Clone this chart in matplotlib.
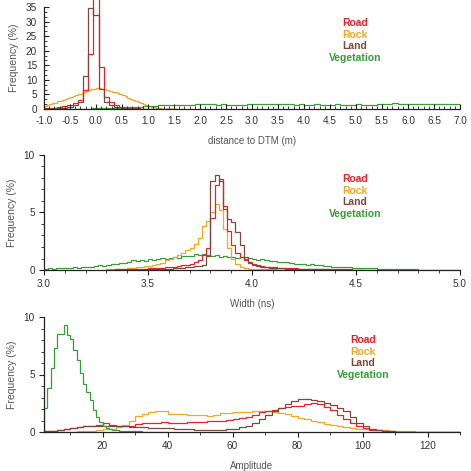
import numpy as np
import matplotlib
matplotlib.use("Agg")
import matplotlib.pyplot as plt
from matplotlib.ticker import MultipleLocator, FormatStrFormatter
from matplotlib.patches import Rectangle

plt.rcParams["font.family"] = ["Liberation Sans", "DejaVu Sans"]

# =========================
# COLOURS / CLASSES
# =========================
CLASSES = ["Road", "Rock", "Land", "Vegetation"]
COLORS = {"Road": "#e8212b", "Rock": "#f5a623", "Land": "#7b4a3c", "Vegetation": "#3a9b3a"}

# =========================
# PANEL 1: distance to DTM (m)
# =========================
# road / land: bins 0.1 wide, centred at -1.0, -0.9, ...
dist_road_start = -1.05
dist_road = [0.2, 0.35, 0.5, 0.7, 1.0, 1.4, 2.0, 3.2, 6.5, 19.0, 45.0, 14.5, 4.2, 2.4,
             1.4, 0.8, 0.5, 0.3, 0.2, 0.15, 0.1, 0.08, 0.06, 0.05, 0.04, 0.03]
dist_land_start = -1.05
dist_land = [0.1, 0.15, 0.25, 0.35, 0.5, 0.8, 1.3, 2.5, 11.3, 34.8, 32.2, 7.0, 2.5, 1.5,
             0.8, 0.45, 0.3, 0.2, 0.12, 0.08, 0.06, 0.05, 0.04, 0.03, 0.03, 0.02]
# rock: bins 0.05 wide from -1.0
dist_rock_start = -1.0
dist_rock = [1.0, 1.3, 1.6, 1.9, 2.2, 2.6, 2.9, 3.2, 3.5, 3.8,
             4.1, 4.4, 4.7, 5.0, 5.3, 5.8, 6.2, 6.5, 6.8, 7.0,
             7.1, 7.1, 7.0, 6.9, 6.6, 6.3, 6.0, 5.7, 5.4, 5.1,
             4.7, 4.3, 3.9, 3.5, 3.1, 2.7, 2.4, 2.0, 1.7, 1.4,
             1.1, 0.8, 0.6, 0.4, 0.25, 0.15, 0.1, 0.07, 0.05, 0.03]
# vegetation: bins 0.1 wide from -1.0 to 7.0
dist_veg_start = -1.0
dist_veg = [0.0, 0.0, 0.02, 0.03, 0.05, 0.07, 0.1, 0.12, 0.15, 0.18,
            0.22, 0.27, 0.32, 0.38, 0.45, 0.55, 0.65, 0.75, 0.85, 1.0,
            1.1, 1.2, 1.25, 1.3, 1.35, 1.4, 1.45, 1.5, 1.5, 1.55,
            1.7, 1.6, 1.55, 1.5, 1.55, 1.5, 1.45, 1.4, 1.5, 1.55,
            1.55, 1.6, 1.55, 1.6, 1.55, 1.6, 1.55, 1.6, 1.5, 1.55,
            1.5, 1.45, 1.55, 1.5, 1.45, 1.5, 1.55, 1.5, 1.45, 1.5,
            1.55, 1.5, 1.45, 1.5, 1.55, 1.6, 1.65, 1.9, 1.7, 1.6,
            1.6, 1.65, 1.6, 1.55, 1.6, 1.55, 1.6, 1.6, 1.55, 1.6]

# =========================
# PANEL 2: Width (ns), bins 0.02 wide
# =========================
width_road_start = 3.30
width_road = [0.03, 0.04, 0.05, 0.06, 0.07, 0.08, 0.09, 0.1, 0.12, 0.13,
              0.15, 0.17, 0.19, 0.21, 0.24, 0.27, 0.3, 0.34, 0.4, 0.45,
              0.55, 0.7, 0.9, 1.3, 1.9, 4.5, 7.4, 7.9, 5.6, 3.4,
              2.2, 1.5, 1.1, 0.85, 0.7, 0.55, 0.45, 0.35, 0.3, 0.26,
              0.22, 0.2, 0.18, 0.16, 0.15, 0.14, 0.13, 0.12, 0.11, 0.1,
              0.1, 0.09, 0.08, 0.08, 0.07, 0.06, 0.06, 0.05, 0.05, 0.04,
              0.04, 0.03, 0.03, 0.02, 0.02, 0.02, 0.01]
width_rock_start = 3.30
width_rock = [0.05, 0.06, 0.08, 0.1, 0.12, 0.15, 0.18, 0.22, 0.27, 0.32,
              0.38, 0.45, 0.55, 0.65, 0.85, 1.0, 1.1, 1.3, 1.5, 1.7,
              1.95, 2.3, 2.8, 3.8, 4.3, 5.0, 5.7, 5.2, 3.6, 1.9,
              1.0, 0.5, 0.28, 0.18, 0.13, 0.1, 0.08, 0.07, 0.06, 0.05,
              0.05, 0.04, 0.04, 0.03, 0.03, 0.02, 0.02, 0.02, 0.01]
width_land_start = 3.30
width_land = [0.01, 0.01, 0.02, 0.02, 0.02, 0.03, 0.03, 0.04, 0.04, 0.05,
              0.05, 0.06, 0.07, 0.08, 0.1, 0.12, 0.14, 0.16, 0.19, 0.23,
              0.27, 0.32, 0.38, 0.45, 1.2, 7.7, 8.3, 7.7, 5.3, 4.4,
              4.2, 3.3, 2.2, 1.1, 0.6, 0.45, 0.35, 0.3, 0.25, 0.2,
              0.18, 0.16, 0.14, 0.12, 0.11, 0.1, 0.09, 0.08, 0.08, 0.07,
              0.06, 0.06, 0.05, 0.05, 0.04, 0.04, 0.03, 0.03, 0.02, 0.02,
              0.02, 0.01]
width_veg_start = 3.0
width_veg = [0.12, 0.15, 0.13, 0.16, 0.18, 0.17, 0.2, 0.22, 0.2, 0.26,
             0.3, 0.28, 0.35, 0.4, 0.38, 0.45, 0.5, 0.48, 0.58, 0.62,
             0.7, 0.85, 0.75, 0.88, 0.82, 0.95, 0.9, 1.0, 1.05, 0.98,
             1.08, 1.15, 1.05, 1.2, 1.25, 1.22, 1.35, 1.3, 1.4, 1.32,
             1.2, 1.28, 1.15, 1.22, 1.12, 1.15, 1.05, 1.1, 1.0, 1.02,
             0.95, 0.9, 0.92, 0.85, 0.8, 0.78, 0.72, 0.68, 0.7, 0.6,
             0.55, 0.52, 0.48, 0.45, 0.5, 0.42, 0.4, 0.35, 0.32, 0.3,
             0.28, 0.25, 0.22, 0.24, 0.2, 0.18, 0.2, 0.15, 0.14, 0.16,
             0.12, 0.1, 0.11, 0.08, 0.08, 0.07, 0.06, 0.06, 0.05, 0.05,
             0.04, 0.04, 0.03, 0.03, 0.03, 0.02, 0.02, 0.02, 0.02, 0.02]

# =========================
# PANEL 3: Amplitude
# =========================
# road / rock / land: bins 2 wide from 2
amp_road_start = 2
amp_road = [0.05, 0.1, 0.18, 0.25, 0.32, 0.4, 0.48, 0.55, 0.62, 0.78,
            0.6, 0.5, 0.5, 0.55, 0.7, 0.78, 0.8, 0.82, 0.87, 0.82,
            0.8, 0.8, 0.85, 0.87, 0.88, 0.92, 0.96, 1.0, 1.05, 1.1,
            1.2, 1.3, 1.5, 1.7, 1.85, 1.95, 2.1, 2.2, 2.25, 2.3,
            2.4, 2.5, 2.45, 2.2, 1.9, 1.5, 1.1, 0.75, 0.5, 0.32,
            0.2, 0.14, 0.09, 0.06, 0.04, 0.03, 0.02, 0.02, 0.01, 0.01,
            0.01, 0.01, 0.01, 0.01]
amp_rock_start = 2
amp_rock = [0.0, 0.0, 0.01, 0.02, 0.03, 0.05, 0.07, 0.1, 0.15, 0.22,
            0.3, 0.42, 0.6, 0.95, 1.35, 1.6, 1.78, 1.82, 1.8, 1.6,
            1.55, 1.58, 1.5, 1.48, 1.45, 1.4, 1.5, 1.62, 1.65, 1.7,
            1.72, 1.75, 1.82, 1.85, 1.8, 1.75, 1.68, 1.55, 1.35, 1.2,
            1.1, 0.95, 0.85, 0.72, 0.62, 0.52, 0.42, 0.35, 0.3, 0.26,
            0.22, 0.2, 0.16, 0.12, 0.1, 0.07, 0.05, 0.04, 0.03, 0.02,
            0.02, 0.01, 0.01, 0.01]
amp_land_start = 2
amp_land = [0.05, 0.12, 0.2, 0.3, 0.38, 0.45, 0.5, 0.55, 0.55, 0.55,
            0.52, 0.5, 0.48, 0.45, 0.42, 0.4, 0.38, 0.36, 0.35, 0.33,
            0.3, 0.27, 0.24, 0.2, 0.18, 0.16, 0.15, 0.18, 0.22, 0.3,
            0.4, 0.55, 0.8, 1.1, 1.5, 1.85, 2.1, 2.4, 2.7, 2.9,
            2.85, 2.75, 2.7, 2.55, 2.35, 2.1, 1.8, 1.3, 0.8, 0.5,
            0.3, 0.18, 0.1, 0.06, 0.04, 0.02, 0.01, 0.01, 0.01, 0.01,
            0.01, 0.01, 0.01, 0.01]
# vegetation: bins 1 wide from 2
amp_veg_start = 2
amp_veg = [2.1, 3.8, 5.6, 7.3, 8.5, 8.5, 9.3, 8.4, 8.1, 7.1,
           6.3, 5.1, 4.2, 3.5, 2.8, 1.9, 1.3, 0.9, 0.5, 0.35,
           0.25, 0.2, 0.15, 0.12, 0.1, 0.08, 0.07, 0.06, 0.05, 0.05,
           0.04, 0.04, 0.03, 0.03, 0.03, 0.02, 0.02, 0.02]

PANELS = [
    {
        "xlabel": "distance to DTM (m)", "xlim": (-1.0, 7.0), "ylim": (0, 35),
        "xmajor": 0.5, "xminor": 0.1, "ymajor": 5, "yminor": 5 / 3, "xfmt": "%.1f",
        "tickdir": "in", "legend_x": 355, "legend_y": 23,
        "series": {
            "Rock": (dist_rock_start, 0.05, dist_rock),
            "Road": (dist_road_start, 0.1, dist_road),
            "Land": (dist_land_start, 0.1, dist_land),
            "Vegetation": (dist_veg_start, 0.1, dist_veg),
        },
        "rect": (44, 7, 460, 109),
    },
    {
        "xlabel": "Width (ns)", "xlim": (3.0, 5.0), "ylim": (0, 10),
        "xmajor": 0.5, "xminor": 0.1, "ymajor": 5, "yminor": 1, "xfmt": "%.1f",
        "tickdir": "out", "legend_x": 355, "legend_y": 179,
        "series": {
            "Vegetation": (width_veg_start, 0.02, width_veg),
            "Rock": (width_rock_start, 0.02, width_rock),
            "Road": (width_road_start, 0.02, width_road),
            "Land": (width_land_start, 0.02, width_land),
        },
        "rect": (44, 155, 460, 270),
    },
    {
        "xlabel": "Amplitude", "xlim": (2, 130), "ylim": (0, 10),
        "xmajor": 20, "xminor": 10, "ymajor": 5, "yminor": 1, "xfmt": "%d",
        "tickdir": "out", "legend_x": 363, "legend_y": 340,
        "series": {
            "Rock": (amp_rock_start, 2, amp_rock),
            "Road": (amp_road_start, 2, amp_road),
            "Land": (amp_land_start, 2, amp_land),
            "Vegetation": (amp_veg_start, 1, amp_veg),
        },
        "rect": (44, 317, 460, 432),
    },
]

W = H = 471
fig = plt.figure(figsize=(W / 100, H / 100), dpi=100)

for k, p in enumerate(PANELS):
    x0, y0, x1, y1 = p["rect"]
    ax = fig.add_axes([x0 / W, 1 - y1 / H, (x1 - x0) / W, (y1 - y0) / H])

    # top panel: the peaks run off the top of the frame
    clip = Rectangle((0, 0), 1, 1.5 if k == 0 else 1, transform=ax.transAxes)

    for name, (start, bw, vals) in p["series"].items():
        vals = np.asarray(vals, dtype=float)
        edges = start + bw * np.arange(len(vals) + 1)
        st = ax.stairs(vals, edges, baseline=0, color=COLORS[name], lw=0.9)
        st.set_clip_path(clip)

    ax.set_xlim(*p["xlim"])
    ax.set_ylim(*p["ylim"])
    ax.xaxis.set_major_locator(MultipleLocator(p["xmajor"]))
    ax.xaxis.set_minor_locator(MultipleLocator(p["xminor"]))
    ax.yaxis.set_major_locator(MultipleLocator(p["ymajor"]))
    ax.yaxis.set_minor_locator(MultipleLocator(p["yminor"]))
    ax.xaxis.set_major_formatter(FormatStrFormatter(p["xfmt"]))

    for s in ["top", "right"]:
        ax.spines[s].set_visible(False)
    for s in ["left", "bottom"]:
        ax.spines[s].set_linewidth(0.9)
        ax.spines[s].set_color("#222222")

    d = p["tickdir"]
    ax.tick_params(which="major", direction=d, length=3.5, width=0.8, color="#222222",
                   labelsize=7.2, labelcolor="#333333", pad=5 if d == "in" else 3)
    ax.tick_params(which="minor", direction=d, length=2, width=0.6, color="#222222")

    ax.set_xlabel(p["xlabel"], fontsize=7, color="#555555", labelpad=7)
    ax.set_ylabel("Frequency (%)", fontsize=7.5, color="#555555", labelpad=5)

    # coloured text legend
    ly = p["legend_y"]
    for i, name in enumerate(CLASSES):
        fig.text(p["legend_x"] / W, 1 - (ly + i * 11.7) / H, name, color=COLORS[name],
                 fontsize=7.5, fontweight="bold", ha="center", va="center")

fig.savefig("out.png", dpi=100)
